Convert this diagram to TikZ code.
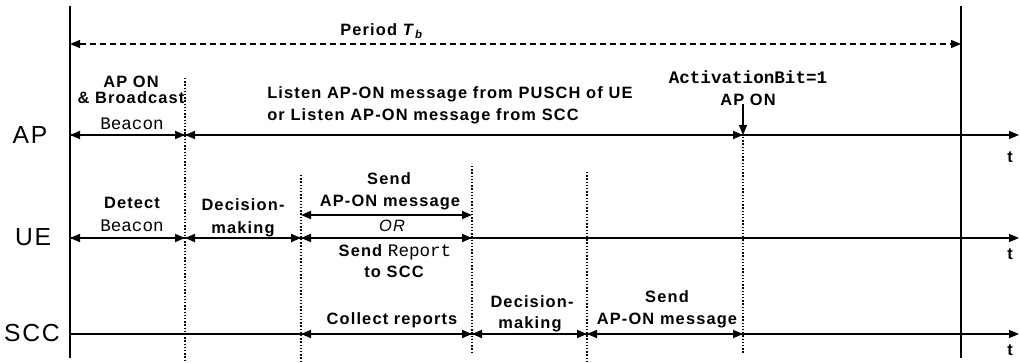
\documentclass[tikz,border=0pt]{standalone}
\usepackage{fontspec}
\setmainfont{Liberation Sans}
\setmonofont{Liberation Mono}
\newfontfamily\lblfont[LetterSpace=7]{Liberation Sans}
\usetikzlibrary{arrows.meta}

\newcommand{\codetxt}[1]{{\ttfamily\mdseries\fontsize{13.2}{15}\selectfont #1}}

\tikzset{
  tip/.tip={Triangle[length=7.5pt,width=6pt]},
  txt/.style={font=\lblfont\bfseries\fontsize{12.3}{14}\selectfont, inner sep=0pt, text height=8.8pt, text depth=0pt},
  axlbl/.style={font=\lblfont\fontsize{18.5}{20}\selectfont, inner sep=0pt, text height=13.2pt, text depth=0pt},
  span/.style={line width=1.3pt, tip-tip},
  axis/.style={line width=0.8pt, -tip},
  sep/.style={line width=0.9pt, dash pattern=on 1.1pt off 1.3pt},
  bound/.style={line width=1.3pt}
}

\begin{document}
\begin{tikzpicture}[x=0.75pt,y=0.75pt,yscale=-1,xscale=1]
\useasboundingbox (0,0) rectangle (1020,363);

% points of the time axes
\coordinate (ltop) at (70,6);    \coordinate (lbot) at (70,358);
\coordinate (rtop) at (961,6);   \coordinate (rbot) at (961,358);
\coordinate (pl) at (70,44);     \coordinate (pr) at (961,44);
\coordinate (ap0) at (70,135);   \coordinate (ap1) at (185,135);
\coordinate (ap2) at (743,135);  \coordinate (apend) at (1019,135);
\coordinate (apon) at (743,104);
\coordinate (ue0) at (70,238);   \coordinate (ue1) at (185,238);
\coordinate (ue2) at (301,238);  \coordinate (ue3) at (472,238);
\coordinate (ue2u) at (301,215); \coordinate (ue3u) at (472,215);
\coordinate (ueend) at (1019,238);
\coordinate (scc0) at (70,334);  \coordinate (scc2) at (301,334);
\coordinate (scc3) at (472,334); \coordinate (scc4) at (587,334);
\coordinate (scc5) at (743,334); \coordinate (sccend) at (1019,334);
\coordinate (d1t) at (185,78);   \coordinate (d1b) at (185,360);
\coordinate (d2t) at (301,175);  \coordinate (d2b) at (301,362);
\coordinate (d3t) at (472,166);  \coordinate (d3b) at (472,354);
\coordinate (d4t) at (587,172);  \coordinate (d4b) at (587,362);
\coordinate (d5t) at (743,137);  \coordinate (d5b) at (743,354);

%Boundaries of the period
\draw [bound] (ltop) -- (lbot) ;
\draw [bound] (rtop) -- (rbot) ;
\draw [line width=1pt, dash pattern=on 4.5pt off 3pt, tip-tip] (pl) -- (pr) ;

%Dotted separators
\draw [sep] (d1t) -- (d1b) ;
\draw [sep] (d2t) -- (d2b) ;
\draw [sep] (d3t) -- (d3b) ;
\draw [sep] (d4t) -- (d4b) ;
\draw [sep] (d5t) -- (d5b) ;

%Time axes
\draw [axis] (ap0) -- (apend) ;
\draw [axis] (ue0) -- (ueend) ;
\draw [axis] (scc0) -- (sccend) ;

%AP intervals
\draw [span] (ap0) -- (ap1) ;
\draw [span] (ap1) -- (ap2) ;
\draw [line width=1pt, -tip] (apon) -- (ap2) ;
%UE intervals
\draw [span] (ue0) -- (ue1) ;
\draw [span] (ue1) -- (ue2) ;
\draw [span] (ue2) -- (ue3) ;
\draw [span] (ue2u) -- (ue3u) ;
%SCC intervals
\draw [span] (scc2) -- (scc3) ;
\draw [span] (scc3) -- (scc4) ;
\draw [span] (scc4) -- (scc5) ;

% Text Node
\node [txt] (period) at (382,30) {Period \textit{T}\textsubscript{\textit{b}}};
\node [axlbl] (ap) at (30,135) {AP};
\node [axlbl] (ue) at (33,237) {UE};
\node [axlbl] (scc) at (32,333) {SCC};
\node [txt] (tap) at (1010,157) {t};
\node [txt] (tue) at (1010,254) {t};
\node [txt] (tscc) at (1010,350) {t};
% Text Node
\node [txt] (apona) at (131,82) {AP ON};
\node [txt] (aponb) at (131,98) {\& Broadcast};
\node [txt] (aponc) at (132,124) {\codetxt{Beacon}};
\node [txt, anchor=west] (listena) at (267,93) {Listen AP-ON message from PUSCH of UE};
\node [txt, anchor=west] (listenb) at (267,115) {or Listen AP-ON message from SCC};
\node [txt] (actbit) at (748,78) {\codetxt{\bfseries ActivationBit=1}};
\node [txt] (actap) at (748,100) {AP ON};
% Text Node
\node [txt] (deta) at (132,203) {Detect};
\node [txt] (detb) at (132,226) {\codetxt{Beacon}};
\node [txt] (deca) at (243,205) {Decision-};
\node [txt] (decb) at (243,228) {making};
\node [txt] (senda) at (389,179) {Send};
\node [txt] (sendb) at (390,201) {AP-ON message};
\node [txt, font=\lblfont\itshape\fontsize{12.3}{14}\selectfont] (or) at (392,226) {OR};
\node [txt] (repa) at (395,251) {Send \codetxt{Report}};
\node [txt] (repb) at (394,272) {to SCC};
% Text Node
\node [txt] (coll) at (392,319) {Collect reports};
\node [txt] (sdeca) at (532,302) {Decision-};
\node [txt] (sdecb) at (530,323) {making};
\node [txt] (ssenda) at (667,297) {Send};
\node [txt] (ssendb) at (667,319) {AP-ON message};

\end{tikzpicture}
\end{document}
